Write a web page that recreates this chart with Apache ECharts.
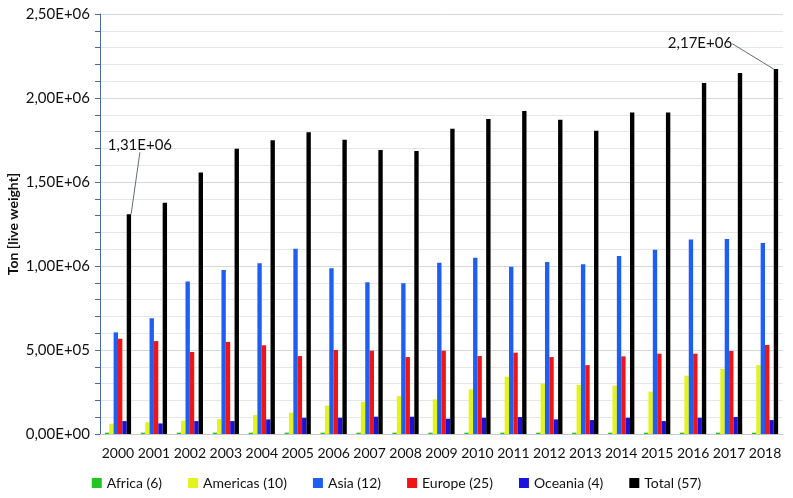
<!DOCTYPE html>
<html>
<head>
<meta charset="utf-8">
<script src="https://cdn.jsdelivr.net/npm/echarts@6/dist/echarts.min.js"></script>
<style>html,body{margin:0;padding:0;background:#fff}#c{width:793px;height:498px}</style>
</head>
<body>
<div id="c"></div>
<script>
const years = ['2000','2001','2002','2003','2004','2005','2006','2007','2008','2009','2010','2011','2012','2013','2014','2015','2016','2017','2018'];
const africa   = [8000,8000,8000,8000,8000,8000,8000,8000,8000,8000,8000,8000,8000,8000,8000,8000,8000,8000,8000];
const americas = [61000,70000,80000,89000,113000,127000,169000,192000,226000,206000,266000,341000,300000,292000,288000,252000,347000,387000,411000];
const asia     = [605000,689000,907000,976000,1016000,1103000,986000,903000,897000,1020000,1049000,996000,1024000,1010000,1060000,1097000,1157000,1161000,1137000];
const europe   = [567000,553000,488000,548000,528000,464000,500000,496000,458000,496000,464000,484000,458000,410000,462000,478000,478000,494000,530000];
const oceania  = [77000,63000,77000,77000,87000,97000,97000,103000,103000,91000,97000,101000,87000,83000,97000,77000,97000,101000,83000];
const total    = [1308000,1377000,1557000,1698000,1748000,1796000,1752000,1690000,1685000,1817000,1875000,1923000,1870000,1805000,1913000,1913000,2089000,2149000,2172000];
const seriesNames = ['Africa (6)','Americas (10)','Asia (12)','Europe (25)','Oceania (4)','Total (57)'];
const colors = ['#22c422','#e4f31c','#1f5ef2','#f01414','#1a12dc','#000000'];
const annotated = {0: '1,31E+06', 18: '2,17E+06'};
const yTitle = 'Ton [live weight]';

function sci(v){
  if (v === 0) return '0,00E+00';
  const e = Math.floor(Math.log10(v) + 1e-9);
  const m = (v / Math.pow(10, e)).toFixed(2).replace('.', ',');
  return m + 'E+' + (e < 10 ? '0' + e : e);
}

const font = 'Lato, "Open Sans", sans-serif';
const dataSets = [africa, americas, asia, europe, oceania, total];
const series = dataSets.map((d, i) => {
  const s = {
    name: seriesNames[i], type: 'bar', data: d,
    itemStyle: {color: colors[i]},
    barGap: '0%', barCategoryGap: '27%',
    emphasis: {disabled: true}
  };
  if (i === 5) {
    s.data = d.map((v, k) => annotated[k] ? {
      value: v,
      label: {show: true, position: 'top', formatter: annotated[k], fontSize: 15, color: '#111', fontFamily: font}
    } : v);
    s.labelLayout = function (p) {
      if (p.dataIndex === 0) return {dx: 11, dy: -57};
      if (p.dataIndex === 18) return {dx: -76, dy: -13};
      return {};
    };
    s.labelLine = {show: true, lineStyle: {color: '#5f7070', width: 1}};
  }
  return s;
});

const chart = echarts.init(document.getElementById('c'), null, {renderer: 'canvas'});
chart.setOption({
  animation: false,
  backgroundColor: '#fff',
  color: colors,
  grid: {left: 100, right: 10, top: 14, bottom: 64, containLabel: false, outerBoundsMode: 'none'},
  graphic: [{
    type: 'text', x: 13, y: 224, rotation: Math.PI / 2,
    style: {text: yTitle, fill: '#111', font: 'bold 14px Lato, "Open Sans", sans-serif', align: 'center', verticalAlign: 'middle'}
  }],
  legend: {
    bottom: 3, left: 'center', itemWidth: 10, itemHeight: 10, itemGap: 26,
    icon: 'rect',
    textStyle: {fontSize: 14, color: '#111', fontFamily: font},
    data: seriesNames
  },
  xAxis: {
    type: 'category', data: years,
    axisLine: {lineStyle: {color: '#c8c8c8'}},
    axisTick: {show: false},
    axisLabel: {fontSize: 14, color: '#111', fontFamily: font, margin: 12, interval: 0}
  },
  yAxis: {
    type: 'value', min: 0, max: 2500000, interval: 500000,
    axisLine: {show: true, lineStyle: {color: '#4a6aa0'}},
    axisTick: {show: true, length: 5, inside: false, lineStyle: {color: '#4a6aa0'}},
    minorTick: {show: true, splitNumber: 5, length: 5, lineStyle: {color: '#4a6aa0'}},
    axisLabel: {formatter: sci, fontSize: 15, color: '#111', fontFamily: font, margin: 10},
    splitLine: {show: true, lineStyle: {color: '#d4d8dc'}},
    minorSplitLine: {show: true, lineStyle: {color: '#e4e7ea'}}
  },
  series: series
});
</script>
</body>
</html>
